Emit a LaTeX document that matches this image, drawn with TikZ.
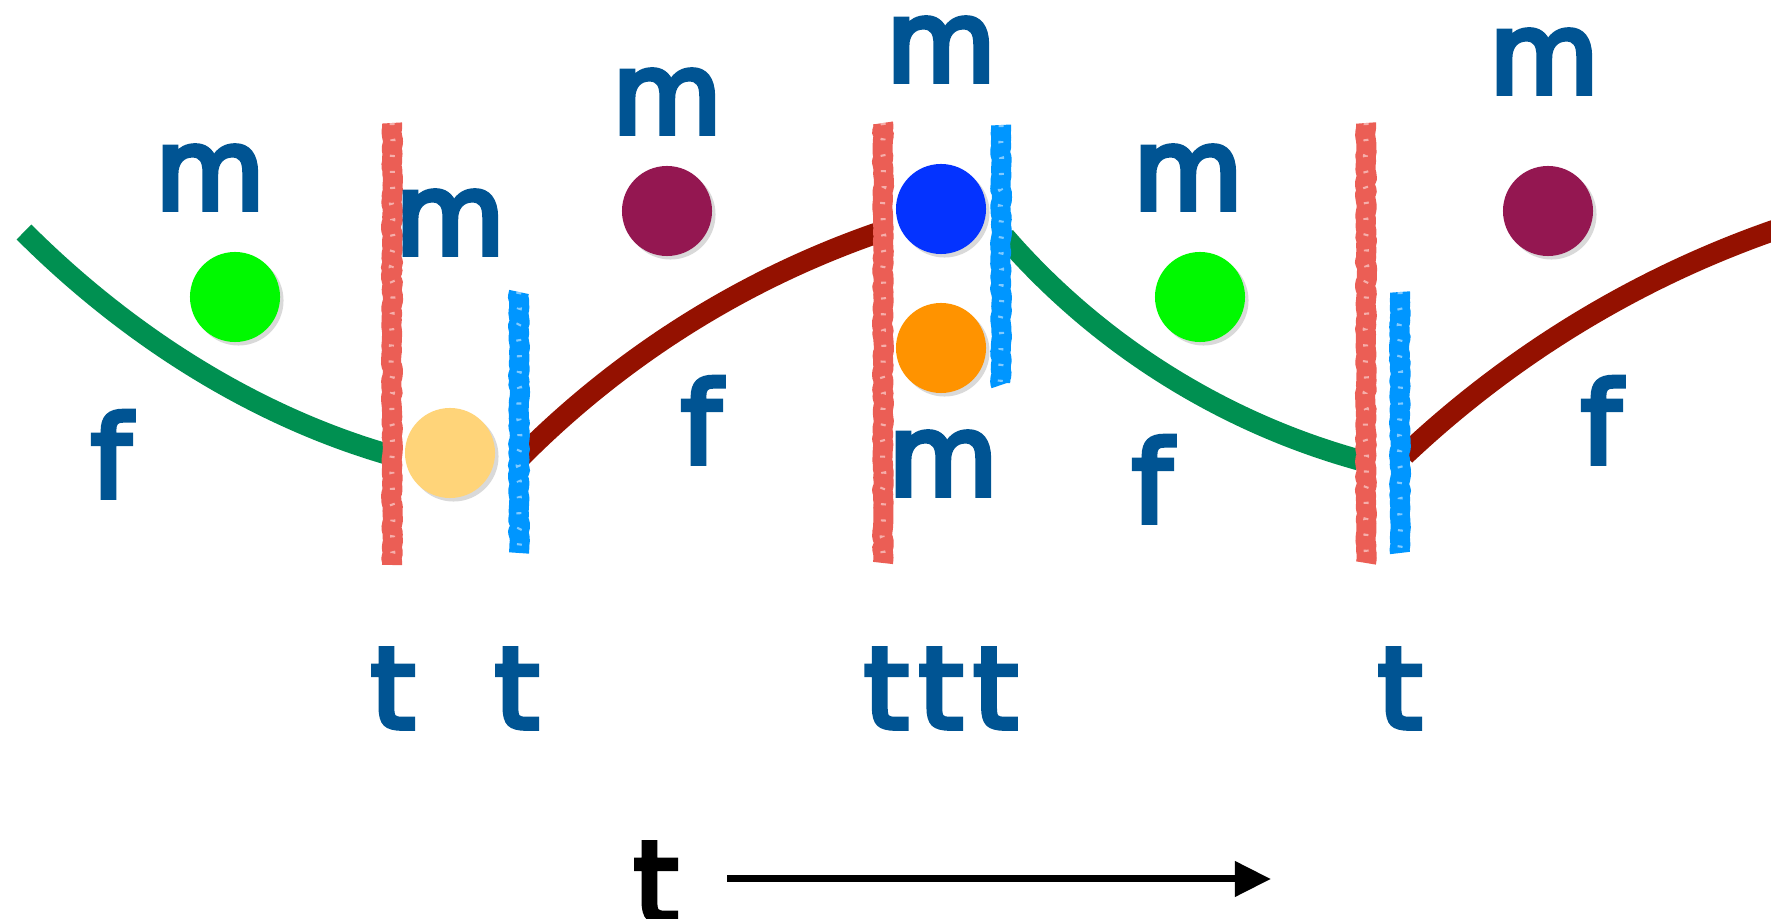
\documentclass[tikz,border=0pt]{standalone}
\usepackage{fontspec}
\setmainfont{DejaVu Sans}[BoldFont={DejaVu Sans}, BoldFeatures={FakeBold=5}]
\usetikzlibrary{shadows, decorations.pathmorphing, arrows.meta}

\definecolor{labelblue}{RGB}{0,84,147}
\definecolor{chalkred}{RGB}{235,94,85}
\definecolor{chalkblue}{RGB}{0,150,255}
\definecolor{mossgreen}{RGB}{0,144,81}
\definecolor{cayenne}{RGB}{148,17,0}
\definecolor{limegreen}{RGB}{0,249,0}
\definecolor{plum}{RGB}{148,23,81}
\definecolor{blueberry}{RGB}{4,51,255}
\definecolor{tangerine}{RGB}{255,147,0}
\definecolor{cantaloupe}{RGB}{255,212,121}

\tikzset{
  ball/.style={circle, minimum size=0.9cm, inner sep=0pt,
    drop shadow={shadow xshift=1pt, shadow yshift=-1pt, opacity=0.3}},
  lbl/.style={text=labelblue, font=\fontsize{32}{38}\selectfont\bfseries,
    inner sep=0pt, anchor=base},
  chalk/.style={line width=0.2cm, line join=round, decorate,
    decoration={random steps, segment length=1.2pt, amplitude=0.3pt},
    postaction={draw=white, line width=0.05cm, opacity=0.5,
      dash pattern=on 0.6pt off 4pt}},
  wave/.style={line width=0.21cm},
}

\begin{document}
\begin{tikzpicture}[x=0.01cm, y=-0.01cm]
    \pgfmathsetseed{7}
    \useasboundingbox (0,0) rectangle (1771,919);

    % Curve end points
    \coordinate (c1a) at (24,232);   \coordinate (c1b) at (397,457);
    \coordinate (c2a) at (519,459);  \coordinate (c2b) at (877,233);
    \coordinate (c3a) at (1005,237); \coordinate (c3b) at (1359,460);
    \coordinate (c4a) at (1405,455); \coordinate (c4b) at (1775,230);

    % Curves
    \draw[wave, mossgreen] (c1a) .. controls (127,335) and (256,418) .. (c1b);
    \draw[wave, cayenne] (c2a) .. controls (620,357) and (742,280) .. (c2b);
    \draw[wave, mossgreen] (c3a) .. controls (1098,344) and (1222,422) .. (c3b);
    \draw[wave, cayenne] (c4a) .. controls (1511,355) and (1637,278) .. (c4b);

    % Chalk lines
    \draw[chalk, chalkred] (392,123) -- (392,565);
    \draw[chalk, chalkblue] (519,292) -- (519,553);
    \draw[chalk, chalkred] (883,123) -- (883,563);
    \draw[chalk, chalkblue] (1001,125) -- (1001,385);
    \draw[chalk, chalkred] (1366,123) -- (1366,563);
    \draw[chalk, chalkblue] (1400,292) -- (1400,553);

    % Balls
    \node[ball, fill=limegreen] (g1) at (235,297) {};
    \node[ball, fill=cantaloupe] (y1) at (450,453) {};
    \node[ball, fill=plum] (p1) at (667,211) {};
    \node[ball, fill=blueberry] (bl) at (941,209) {};
    \node[ball, fill=tangerine] (or) at (941,348) {};
    \node[ball, fill=limegreen] (g2) at (1200,297) {};
    \node[ball, fill=plum] (p2) at (1548,211) {};

    % Labels
    \node[lbl] (m1) at (210,209) {m};
    \node[lbl] (m2) at (450,254) {m};
    \node[lbl] (m3) at (667,133) {m};
    \node[lbl] (m4) at (941,81) {m};
    \node[lbl] (m5) at (943,495) {m};
    \node[lbl] (m6) at (1188,209) {m};
    \node[lbl] (m7) at (1544,93) {m};
    \node[lbl] (f1) at (111,497) {f};
    \node[lbl] (f2) at (701,463) {f};
    \node[lbl] (f3) at (1152,522) {f};
    \node[lbl] (f4) at (1601,463) {f};
    \node[lbl] (t1) at (393,728) {t};
    \node[lbl] (t2) at (517,728) {t};
    \node[lbl] (t3) at (941,728) {t\kern3pt t\kern3pt t};
    \node[lbl] (t4) at (1400,728) {t};

    % Time axis
    \node[lbl, text=black] (taxis) at (656,922) {t};
    \coordinate (tstart) at (727,879);
    \coordinate (tend) at (1271,879);
    \draw[line width=0.07cm, -{Triangle[length=0.36cm, width=0.34cm]}] (tstart) -- (tend);
\end{tikzpicture}
\end{document}
